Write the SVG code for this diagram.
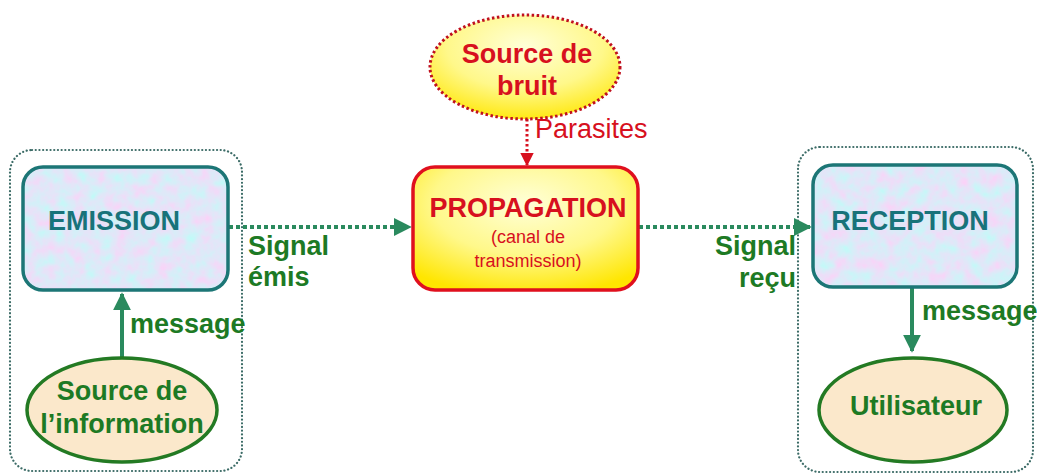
<svg xmlns="http://www.w3.org/2000/svg" width="1037" height="474" viewBox="0 0 1037 474">
<defs>
<style>
text{font-family:"Liberation Sans",Arial,sans-serif;font-size:27px}
.b{font-weight:bold}
.g{fill:#1d7a24}
.r{fill:#d7101e}
.t{fill:#18737a}
.box{fill:none;stroke:#1c7676;stroke-width:3.5}
.cont{fill:none;stroke:#3b6b66;stroke-width:2.2;stroke-dasharray:0.1 3.6;stroke-linecap:round}
.ell{fill:#fbe8cb;stroke:#237a23;stroke-width:3.5}
.ga{fill:none;stroke:#2a8a5e;stroke-width:4;stroke-dasharray:4 3}
.gs{fill:none;stroke:#2a8a5e;stroke-width:4}
.ra{fill:none;stroke:#d7101e;stroke-width:3;stroke-dasharray:2.5 2.5}
</style>
<filter id="tex" x="0" y="0" width="1" height="1">
<feTurbulence type="fractalNoise" baseFrequency="0.07" numOctaves="3" seed="5" result="n"/>
<feColorMatrix in="n" type="matrix" values="0.55 0 0 0 0.47  -0.4 0 0 0 1.0  0 0 0 0 0.94  0 0 0 0 1"/>
<feComposite in2="SourceGraphic" operator="in"/>
</filter>
<radialGradient id="yel" cx="0.5" cy="0.3" r="0.75">
<stop offset="0" stop-color="#ffffd8"/>
<stop offset="0.55" stop-color="#fff88a"/>
<stop offset="1" stop-color="#ffe600"/>
</radialGradient>
<marker id="mg" viewBox="0 0 10 10" refX="9" refY="5" markerWidth="4.5" markerHeight="4.5" orient="auto" markerUnits="strokeWidth">
<path d="M0 0L10 5L0 10z" fill="#2a8a5e"/>
</marker>
<marker id="mr" viewBox="0 0 10 10" refX="9" refY="5" markerWidth="4.5" markerHeight="4.5" orient="auto" markerUnits="strokeWidth">
<path d="M0 0L10 5L0 10z" fill="#d7101e"/>
</marker>
</defs>

<g id="emitter-group">
<rect class="cont" x="10" y="150" width="232" height="321" rx="22"/>
</g>
<g id="receiver-group">
<rect class="cont" x="798" y="147" width="235" height="325" rx="22"/>
</g>

<g id="connectors">
<path class="ga" d="M229 227H410" marker-end="url(#mg)"/>
<path class="ga" d="M639 227H810" marker-end="url(#mg)"/>
<path class="gs" d="M122 357V294" marker-end="url(#mg)"/>
<path class="gs" d="M912 288V351" marker-end="url(#mg)"/>
<path class="ra" d="M527 119V165" marker-end="url(#mr)"/>
<text class="b g" x="248" y="255">Signal</text>
<text class="b g" x="248" y="286">émis</text>
<text class="b g" x="796" y="255" text-anchor="end">Signal</text>
<text class="b g" x="796" y="287" text-anchor="end">reçu</text>
<text class="b g" x="130" y="333">message</text>
<text class="b g" x="922" y="320">message</text>
<text class="r" x="535" y="138">Parasites</text>
</g>

<g id="emission">
<rect x="23" y="167" width="205" height="123" rx="20" fill="#fff" filter="url(#tex)"/>
<rect class="box" x="23" y="167" width="205" height="123" rx="20"/>
<text class="b t" x="114" y="230" text-anchor="middle">EMISSION</text>
</g>

<g id="source-info">
<ellipse class="ell" cx="122" cy="410" rx="95" ry="52"/>
<text class="b g" x="122" y="400" text-anchor="middle">Source de</text>
<text class="b g" x="122" y="433" text-anchor="middle">l’information</text>
</g>

<g id="bruit">
<ellipse cx="525" cy="67" rx="95" ry="52" fill="url(#yel)" stroke="#c0101e" stroke-width="3" stroke-dasharray="2.5 2.5"/>
<text class="b r" x="527" y="63" text-anchor="middle">Source de</text>
<text class="b r" x="527" y="95" text-anchor="middle">bruit</text>
</g>

<g id="propagation">
<rect x="413" y="167" width="225" height="123" rx="22" fill="url(#yel)" stroke="#e0101e" stroke-width="3.5"/>
<text class="b r" x="528" y="217" text-anchor="middle">PROPAGATION</text>
<text class="r" x="528" y="243" text-anchor="middle" style="font-size:18px">(canal de</text>
<text class="r" x="528" y="267" text-anchor="middle" style="font-size:18px">transmission)</text>
</g>

<g id="reception">
<rect x="813" y="165" width="204" height="122" rx="20" fill="#fff" filter="url(#tex)"/>
<rect class="box" x="813" y="165" width="204" height="122" rx="20"/>
<text class="b t" x="910" y="230" text-anchor="middle">RECEPTION</text>
</g>

<g id="utilisateur">
<ellipse class="ell" cx="913" cy="410" rx="94" ry="52"/>
<text class="b g" x="916" y="415" text-anchor="middle">Utilisateur</text>
</g>
</svg>
